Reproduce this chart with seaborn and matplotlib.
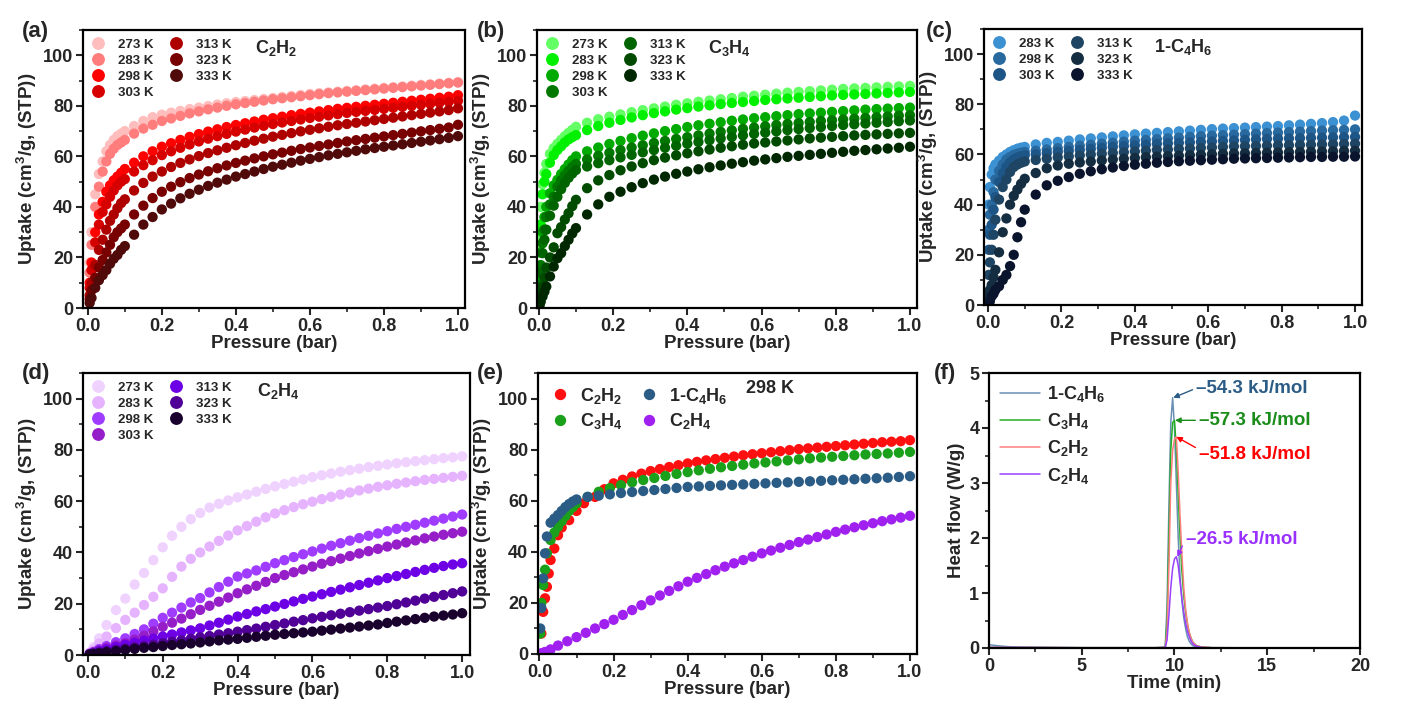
"""
    Adsorption isotherms (a-e) and calorimetry heat flow (f).
"""

import pandas as pd
import matplotlib
matplotlib.use('Agg')
import matplotlib.pyplot as plt
import seaborn as sns
from matplotlib.ticker import MultipleLocator

# ---------------- data ----------------
# pressure grids (bar)
P_A = [0.005, 0.01, 0.02, 0.03, 0.04, 0.05, 0.06, 0.07, 0.08, 0.09, 0.10,
       0.125, 0.15, 0.175, 0.20, 0.225, 0.25, 0.275, 0.30, 0.325, 0.35, 0.375, 0.40,
       0.425, 0.45, 0.475, 0.50, 0.525, 0.55, 0.575, 0.60, 0.625, 0.65, 0.675, 0.70,
       0.725, 0.75, 0.775, 0.80, 0.825, 0.85, 0.875, 0.90, 0.925, 0.95, 0.975, 1.0]

P_B = [0.002, 0.005, 0.01, 0.015, 0.02, 0.03, 0.04, 0.05, 0.06, 0.07, 0.08, 0.09, 0.10,
       0.13, 0.16, 0.19, 0.22, 0.25, 0.28, 0.31, 0.34, 0.37, 0.40,
       0.43, 0.46, 0.49, 0.52, 0.55, 0.58, 0.61, 0.64, 0.67, 0.70,
       0.73, 0.76, 0.79, 0.82, 0.85, 0.88, 0.91, 0.94, 0.97, 1.0]

P_D = [0.005, 0.015, 0.03, 0.05, 0.075, 0.10, 0.125, 0.15, 0.175, 0.20,
       0.225, 0.25, 0.275, 0.30, 0.325, 0.35, 0.375, 0.40, 0.425, 0.45,
       0.475, 0.50, 0.525, 0.55, 0.575, 0.60, 0.625, 0.65, 0.675, 0.70,
       0.725, 0.75, 0.775, 0.80, 0.825, 0.85, 0.875, 0.90, 0.925, 0.95, 0.975, 1.0]

P_E = [0.005, 0.01, 0.015, 0.02, 0.025, 0.03, 0.04, 0.05, 0.06, 0.08, 0.10, 0.12, 0.15, 0.175,
       0.20, 0.225, 0.25, 0.275, 0.30, 0.325, 0.35, 0.375, 0.40, 0.425, 0.45,
       0.475, 0.50, 0.525, 0.55, 0.575, 0.60, 0.625, 0.65, 0.675, 0.70, 0.725,
       0.75, 0.775, 0.80, 0.825, 0.85, 0.875, 0.90, 0.925, 0.95, 0.975, 1.0]

# (a) C2H2, on P_A
c2h2_273 = [18, 30, 45, 53, 58, 62, 64.5, 66.5, 68, 69, 70,
            72, 74, 75.5, 76.5, 77.3, 78, 78.7, 79.3, 79.9, 80.5, 81, 81.5,
            81.9, 82.3, 82.7, 83.1, 83.5, 83.9, 84.3, 84.7, 85.0, 85.3, 85.6, 85.9,
            86.2, 86.5, 86.8, 87.1, 87.4, 87.7, 88.0, 88.3, 88.5, 88.8, 89.1, 89.4]
c2h2_283 = [14, 25, 40, 48, 54, 58, 61, 63, 64.5, 65.5, 66.5,
            69, 71, 72.5, 74, 75, 76, 77, 77.8, 78.6, 79.3, 80, 80.6,
            81.1, 81.6, 82.1, 82.6, 83, 83.4, 83.8, 84.2, 84.6, 85, 85.3, 85.6,
            85.9, 86.2, 86.5, 86.8, 87.1, 87.4, 87.7, 88, 88.3, 88.6, 88.9, 89.2]
c2h2_298 = [10, 18, 30, 37, 42, 46, 48.5, 50.5, 52, 53.5, 55,
            57.5, 60, 62, 63.8, 65.2, 66.5, 67.7, 68.8, 69.8, 70.7, 71.6, 72.4,
            73.1, 73.8, 74.5, 75.1, 75.7, 76.3, 76.8, 77.3, 77.8, 78.3, 78.8, 79.2,
            79.6, 80, 80.4, 80.8, 81.2, 81.6, 82, 82.4, 82.8, 83.2, 83.6, 84.2]
c2h2_303 = [8, 15, 26, 33, 38, 41, 44, 46.5, 48.5, 50, 51,
            54, 56.5, 58.5, 60.5, 62, 63.4, 64.7, 65.9, 67, 68, 68.9, 69.8,
            70.6, 71.4, 72.1, 72.8, 73.4, 74, 74.6, 75.2, 75.7, 76.2, 76.7, 77.2,
            77.6, 78, 78.4, 78.8, 79.2, 79.6, 80, 80.4, 80.8, 81.2, 81.6, 82]
c2h2_313 = [5, 10, 17, 23, 27, 31, 34.5, 37, 39.5, 41.5, 43,
            46.5, 49.5, 52, 54, 55.8, 57.4, 58.8, 60.1, 61.3, 62.4, 63.4, 64.4,
            65.3, 66.2, 67, 67.8, 68.5, 69.2, 69.9, 70.5, 71.1, 71.7, 72.3, 72.8,
            73.3, 73.8, 74.3, 74.8, 75.3, 75.8, 76.3, 76.8, 77.3, 77.8, 78.3, 79]
c2h2_323 = [3.5, 7, 12, 16, 19, 22, 25, 28, 30, 31.5, 33,
            37, 40.5, 43.5, 46, 48, 49.8, 51.4, 52.8, 54.1, 55.3, 56.4, 57.4,
            58.3, 59.2, 60, 60.8, 61.5, 62.2, 62.9, 63.5, 64.1, 64.7, 65.3, 65.9,
            66.4, 66.9, 67.4, 67.9, 68.4, 68.9, 69.4, 69.9, 70.4, 70.9, 71.4, 72.5]
c2h2_333 = [2, 4, 8, 11, 13, 15, 17.5, 19.5, 21, 23, 24.5,
            29, 33, 36, 39, 41.3, 43.4, 45.2, 46.8, 48.3, 49.6, 50.8, 52,
            53, 54, 55, 55.9, 56.7, 57.5, 58.3, 59, 59.7, 60.4, 61, 61.6,
            62.2, 62.8, 63.3, 63.8, 64.3, 64.8, 65.3, 65.8, 66.3, 66.8, 67.3, 68]

# (b) C3H4, on P_B
c3h4_273 = [28, 40, 49, 53.5, 57, 61, 63.3, 65, 66.5, 68, 69.3, 70.5, 71.7,
            73.3, 74.7, 75.7, 76.6, 77.5, 78.3, 79, 79.7, 80.4, 81,
            81.6, 82.1, 82.6, 83.1, 83.6, 84, 84.4, 84.8, 85.2, 85.5,
            85.8, 86.1, 86.4, 86.7, 86.9, 87.1, 87.3, 87.5, 87.7, 87.9]
c3h4_283 = [22, 33, 45, 50, 53, 57.5, 60.5, 62.5, 64, 65.5, 66.7, 67.6, 68.4,
            70.4, 72, 73.3, 74.4, 75.4, 76.3, 77.1, 77.8, 78.5, 79.1,
            79.7, 80.2, 80.7, 81.1, 81.5, 81.9, 82.3, 82.6, 82.9, 83.2,
            83.5, 83.8, 84.1, 84.3, 84.5, 84.7, 84.9, 85.1, 85.3, 85.5]
c3h4_298 = [12, 22, 30, 36, 40, 45.4, 48.5, 50.7, 53, 55, 56.8, 58.5, 60,
            62, 63.5, 64.9, 66.1, 67.2, 68.2, 69.1, 70, 70.8, 71.6,
            72.3, 72.9, 73.5, 74.1, 74.6, 75.1, 75.5, 75.9, 76.3, 76.7,
            77, 77.3, 77.6, 77.9, 78.2, 78.5, 78.7, 78.9, 79.1, 79.3]
c3h4_303 = [9, 17, 25.6, 31, 36, 41, 44, 48, 50.5, 52.5, 54.3, 55.8, 57,
            58.8, 60.2, 61.4, 62.5, 63.5, 64.4, 65.3, 66.1, 66.9, 67.6,
            68.3, 69, 69.7, 70.3, 70.9, 71.4, 71.9, 72.4, 72.8, 73.2,
            73.6, 74, 74.3, 74.6, 74.9, 75.2, 75.5, 75.8, 76.1, 76.3]
c3h4_313 = [7, 14, 21.7, 27, 31, 36.5, 40.5, 44, 47, 49.5, 51.5, 53.2, 54.6,
            56, 57.3, 58.5, 59.6, 60.6, 61.6, 62.5, 63.4, 64.2, 65,
            65.7, 66.4, 67.1, 67.7, 68.3, 68.9, 69.4, 69.9, 70.4, 70.8,
            71.2, 71.6, 72, 72.4, 72.7, 73, 73.3, 73.6, 73.9, 74.2]
c3h4_323 = [3, 5, 8.5, 12, 16, 20, 24, 29.6, 32, 35, 37.5, 40.3, 42.8,
            47.4, 50.5, 52.6, 54.5, 56, 57.3, 58.5, 59.5, 60.4, 61.2,
            62, 62.7, 63.4, 64, 64.6, 65.1, 65.5, 65.9, 66.3, 66.7,
            67.1, 67.4, 67.7, 68, 68.3, 68.5, 68.7, 68.9, 69.1, 69.3]
c3h4_333 = [1, 2.5, 4.6, 6.5, 8.5, 12.5, 16.4, 19.7, 21.7, 24.5, 27, 29.5, 31.6,
            37, 41, 44, 46, 47.8, 49.4, 50.8, 52, 53.1, 54,
            54.9, 55.7, 56.4, 57.1, 57.7, 58.3, 58.8, 59.3, 59.8, 60.2,
            60.6, 61, 61.4, 61.8, 62.2, 62.5, 62.8, 63.1, 63.4, 63.8]

# (c) 1-C4H6, on P_B
c4h6_283 = [40, 47, 52, 54.5, 56, 57.5, 59, 60, 61, 61.7, 62.3, 62.7, 63,
            64, 64.6, 65, 65.5, 66, 66.4, 66.8, 67.2, 67.6, 68,
            68.3, 68.6, 68.9, 69.2, 69.5, 69.8, 70.1, 70.3, 70.5, 70.7,
            70.9, 71.1, 71.3, 71.6, 71.9, 72.2, 72.5, 72.9, 73.5, 75.5]
c4h6_298 = [30, 36, 40, 45, 50, 53.5, 56, 58, 59, 59.8, 60.3, 60.7, 61,
            61.5, 62, 62.5, 63, 63.5, 63.9, 64.3, 64.7, 65.1, 65.5,
            65.8, 66.1, 66.4, 66.7, 67, 67.3, 67.5, 67.7, 67.9, 68.1,
            68.3, 68.5, 68.7, 68.9, 69.1, 69.3, 69.5, 69.7, 69.8, 70]
c4h6_303 = [22, 28, 32, 38, 43, 49, 52.5, 55, 56.8, 58, 58.8, 59.3, 59.7,
            60, 60.5, 61, 61.4, 61.8, 62.2, 62.6, 63, 63.3, 63.6,
            63.9, 64.2, 64.4, 64.6, 64.8, 65, 65.2, 65.4, 65.6, 65.8,
            66, 66.2, 66.3, 66.4, 66.5, 66.6, 66.7, 66.8, 66.9, 67]
c4h6_313 = [12, 17, 22, 28, 34, 42, 47, 50, 53, 55, 56, 56.7, 57.2,
            57.8, 58.3, 58.8, 59.2, 59.6, 60, 60.3, 60.6, 60.9, 61.2,
            61.5, 61.8, 62, 62.2, 62.4, 62.6, 62.8, 63, 63.2, 63.3,
            63.4, 63.5, 63.6, 63.7, 63.8, 63.9, 64, 64.1, 64.2, 64.3]
c4h6_323 = [4, 6, 8, 11, 14, 21, 29, 34.5, 40, 43.5, 46, 48.3, 50.3,
            52.6, 54.5, 55.6, 56.3, 56.8, 57.2, 57.6, 58, 58.3, 58.6,
            58.9, 59.1, 59.3, 59.5, 59.7, 59.9, 60.1, 60.3, 60.4, 60.5,
            60.6, 60.7, 60.8, 60.9, 61, 61.1, 61.2, 61.3, 61.4, 61.5]
c4h6_333 = [1, 1.5, 3.5, 4.5, 6, 7.5, 10, 12, 15.5, 20, 27, 33, 38,
            44, 47.7, 49.5, 51, 52.3, 53.3, 54.1, 54.8, 55.4, 55.9,
            56.3, 56.7, 57, 57.3, 57.5, 57.7, 57.9, 58.1, 58.3, 58.4,
            58.5, 58.6, 58.7, 58.8, 58.9, 59, 59, 59.1, 59.1, 59.2]

# (d) C2H4, on P_D
c2h4_273 = [1, 3, 6.5, 11.7, 17.5, 22, 27.5, 32, 37, 42,
            46.5, 50, 53, 55.4, 57.5, 59, 60.3, 61.5, 62.6, 63.7,
            64.8, 65.8, 66.7, 67.6, 68.5, 69.4, 70.1, 70.8, 71.5, 72.1,
            72.7, 73.3, 73.8, 74.3, 74.8, 75.2, 75.6, 76, 76.4, 76.8, 77.1, 77.5]
c2h4_283 = [0.7, 2, 4.5, 7.2, 10.5, 13.7, 16.5, 19.5, 22.7, 26,
            30.5, 34.5, 37.5, 40, 42.3, 44.5, 46.6, 48.6, 50.3, 52,
            53.7, 55.2, 56.5, 57.7, 58.8, 59.8, 60.8, 61.7, 62.6, 63.4,
            64.2, 64.9, 65.6, 66.2, 66.8, 67.3, 67.8, 68.3, 68.7, 69.1, 69.5, 69.9]
c2h4_298 = [0.5, 1.2, 2.3, 3.5, 5, 6.5, 8.2, 10, 12.2, 14.5,
            16.5, 18.5, 20.5, 22.2, 24.4, 26.5, 28.6, 30.6, 31.8, 33,
            34.4, 35.8, 37, 38.2, 39.3, 40.4, 41.5, 42.6, 43.6, 44.6,
            45.6, 46.5, 47.4, 48.3, 49.2, 50, 50.8, 51.6, 52.4, 53.2, 54, 54.8]
c2h4_303 = [0.4, 1, 1.8, 2.8, 3.7, 4.6, 6, 7.5, 9.2, 11,
            12.6, 14.2, 15.9, 17.6, 19.2, 20.8, 22.4, 24.1, 25.6, 27,
            28.5, 30, 31.2, 32.3, 33.4, 34.5, 35.6, 36.6, 37.6, 38.6,
            39.6, 40.5, 41.4, 42.3, 43.1, 43.9, 44.7, 45.5, 46.2, 46.9, 47.5, 48.1]
c2h4_313 = [0.3, 0.8, 1.5, 2.2, 3.1, 4, 4.8, 5.6, 6.4, 7.2,
            8, 8.8, 9.6, 10.4, 11.5, 12.6, 13.8, 15, 16, 17,
            17.9, 18.9, 19.9, 20.9, 21.9, 22.8, 23.7, 24.6, 25.5, 26.4,
            27.3, 28.2, 29.1, 30, 30.8, 31.6, 32.4, 33.2, 34, 34.7, 35.3, 35.8]
c2h4_323 = [0.2, 0.6, 1, 1.5, 2, 2.5, 3, 3.5, 4, 4.6,
            5.2, 5.7, 6.3, 6.9, 7.4, 8, 8.5, 9.1, 9.7, 10.3,
            11, 11.7, 12.3, 13, 13.6, 14.3, 14.9, 15.5, 16.1, 16.7,
            17.3, 17.9, 18.5, 19.1, 19.8, 20.5, 21.2, 22, 22.7, 23.4, 24.1, 24.8]
c2h4_333 = [0.2, 0.4, 0.7, 1.1, 1.5, 2, 2.4, 2.8, 3.1, 3.5,
            3.9, 4.2, 4.5, 4.9, 5.3, 5.7, 6, 6.3, 6.7, 7.1,
            7.5, 7.9, 8.2, 8.5, 8.8, 9.1, 9.5, 9.9, 10.3, 10.7,
            11.1, 11.5, 11.9, 12.5, 13, 13.5, 14, 14.5, 15, 15.4, 15.8, 16.3]

# (e) comparison at 298 K
e_c2h2 = [8, 16.5, 21.8, 26.3, 31.5, 36.8, 41.3, 46.5, 49.5, 52.4, 56, 59, 61.5, 64.5,
          66.8, 68.2, 69.5, 70.6, 71.6, 72.4, 73.2, 73.9, 74.6, 75.2, 75.8,
          76.3, 76.8, 77.3, 77.8, 78.2, 78.6, 79, 79.4, 79.8, 80.2, 80.5,
          80.8, 81.1, 81.4, 81.7, 82, 82.3, 82.6, 82.9, 83.1, 83.3, 83.7]          # P_E
e_c3h4 = [8, 20, 27, 33, 39.4, 44.6, 47.5, 49.8, 52, 54, 56, 57.5, 59,
          61.5, 63.5, 64.9, 66.1, 67.2, 68.1, 68.9, 69.7, 70.5, 71.2,
          71.9, 72.5, 73.1, 73.6, 74.1, 74.6, 75, 75.4, 75.8, 76.2,
          76.6, 76.9, 77.2, 77.5, 77.8, 78.1, 78.3, 78.5, 78.8, 79.1]              # P_B
e_c4h6 = [10, 18, 29.6, 39.4, 46, 51.4, 53, 54.4, 56, 57.5, 58.7, 59.7, 60.5,
          61.5, 62, 62.5, 63, 63.4, 63.8, 64.2, 64.6, 65, 65.4,
          65.6, 65.8, 66, 66.2, 66.4, 66.6, 66.8, 67, 67.2, 67.4,
          67.6, 67.8, 68, 68.2, 68.4, 68.6, 68.8, 69, 69.3, 69.6]                   # P_B
e_c2h4 = [0.3, 0.8, 1.8, 3.3, 5, 6.6, 8.3, 10, 11.7, 13.4,
          15.3, 17.2, 19.1, 21, 22.9, 24.7, 26.5, 28.3, 29.8, 31.3,
          32.8, 34.2, 35.5, 36.8, 38.1, 39.4, 40.5, 41.6, 42.7, 43.8,
          44.8, 45.8, 46.8, 47.8, 48.7, 49.6, 50.4, 51.2, 52, 52.7, 53.4, 54.1]  # P_D

# (f) heat flow (W/g) vs time (min)
t_min = [0, 0.5, 1, 2, 5, 9, 9.5, 9.6, 9.7, 9.8, 9.9, 10.0, 10.1, 10.2, 10.3, 10.4,
         10.5, 10.6, 10.7, 10.8, 10.9, 11.0, 11.2, 11.5, 12, 15, 20]
hf_c4h6 = [0.06, 0.04, 0.025, 0.01, 0.005, 0.005, 0.01, 0.8, 2.6, 4.1, 4.55, 4.0, 3.0, 2.0, 1.3, 0.85,
           0.55, 0.35, 0.2, 0.12, 0.07, 0.04, 0.02, 0.01, 0.005, 0.003, 0.003]
hf_c3h4 = [0.01, 0.01, 0.01, 0.01, 0.005, 0.005, 0.01, 0.5, 2.0, 3.6, 4.1, 4.14, 3.6, 2.8, 2.0, 1.4,
           0.95, 0.65, 0.42, 0.27, 0.17, 0.1, 0.04, 0.015, 0.005, 0.003, 0.003]
hf_c2h2 = [0.01, 0.01, 0.01, 0.01, 0.005, 0.005, 0.01, 0.3, 1.5, 3.0, 3.6, 3.8, 3.84, 3.2, 2.4, 1.7,
           1.1, 0.7, 0.45, 0.28, 0.17, 0.1, 0.04, 0.015, 0.005, 0.003, 0.003]
hf_c2h4 = [0.01, 0.01, 0.01, 0.01, 0.005, 0.005, 0.01, 0.15, 0.6, 1.1, 1.45, 1.62, 1.66, 1.5, 1.2, 0.9,
           0.65, 0.45, 0.3, 0.2, 0.12, 0.07, 0.03, 0.01, 0.005, 0.003, 0.003]

TEMPS_7 = ['273 K', '283 K', '298 K', '303 K', '313 K', '323 K', '333 K']
TEMPS_6 = ['283 K', '298 K', '303 K', '313 K', '323 K', '333 K']
GASES_E = ['C$_2$H$_2$', 'C$_3$H$_4$', '1-C$_4$H$_6$', 'C$_2$H$_4$']
GASES_F = ['1-C$_4$H$_6$', 'C$_3$H$_4$', 'C$_2$H$_2$', 'C$_2$H$_4$']

COLORS_A = ['#FFBEBE', '#FF7D7D', '#FF0000', '#D70000', '#AF0000', '#780000', '#500A0A']
COLORS_B = ['#64FF64', '#00F000', '#00AA00', '#007800', '#006400', '#004B00', '#002800']
COLORS_C = ['#3C91D2', '#2869A0', '#1E5587', '#1E4664', '#142D41', '#0A142D']
COLORS_D = ['#F0D2FF', '#E6B4FF', '#A03CFF', '#961EC8', '#6E00E6', '#500096', '#19002D']
COLORS_E = ['#FF1010', '#1AA01A', '#2B5C86', '#A020F0']
COLORS_F = ['#6A8FB5', '#22B022', '#FF7F7F', '#9A40FF']

# ---------------- style ----------------
sns.set_theme(style="ticks")
plt.rcParams['font.family'] = ['Liberation Sans', 'DejaVu Sans']
plt.rcParams['font.weight'] = 'bold'
plt.rcParams['axes.labelweight'] = 'bold'
plt.rcParams['mathtext.fontset'] = 'custom'
plt.rcParams['mathtext.rm'] = 'Liberation Sans:bold'
plt.rcParams['mathtext.bf'] = 'Liberation Sans:bold'
plt.rcParams['mathtext.it'] = 'Liberation Sans:bold'
plt.rcParams['mathtext.default'] = 'rm'

W, H = 1412, 716


def long_df(pressures, series, names):
    frames = []
    for p, y, n in zip(pressures, series, names):
        frames.append(pd.DataFrame({'P': p, 'U': y, 'name': n}))
    return pd.concat(frames, ignore_index=True)


def make_axes(fig, left, right, top, bottom):
    return fig.add_axes([left / W, 1 - bottom / H, (right - left) / W, (bottom - top) / H])


def style_axes(ax, xlim, ylim, xmaj, xmin, ymaj, ymin):
    ax.set_xlim(*xlim)
    ax.set_ylim(*ylim)
    ax.xaxis.set_major_locator(MultipleLocator(xmaj))
    ax.xaxis.set_minor_locator(MultipleLocator(xmin))
    ax.yaxis.set_major_locator(MultipleLocator(ymaj))
    ax.yaxis.set_minor_locator(MultipleLocator(ymin))
    ax.tick_params(which='major', direction='out', length=5, width=1.5, labelsize=13, pad=2)
    ax.tick_params(which='minor', direction='out', length=3, width=1.2)
    for s in ax.spines.values():
        s.set_visible(True)
        s.set_linewidth(1.6)
        s.set_color('black')


def isotherm_panel(ax, df, order, colors, gas_label, xlim):
    sns.scatterplot(data=df, x='P', y='U', hue='name', hue_order=order,
                    palette=colors, s=55, edgecolor='none', linewidth=0,
                    ax=ax, legend='full')
    style_axes(ax, xlim, (0, 110), 0.2, 0.1, 20, 10)
    ax.set_xticks([0.0, 0.2, 0.4, 0.6, 0.8, 1.0])
    ax.set_xticklabels(['0.0', '0.2', '0.4', '0.6', '0.8', '1.0'])
    ax.set_xlabel('Pressure (bar)', fontsize=13.5, labelpad=0)
    ax.set_ylabel('Uptake (cm$^3$/g, (STP))', fontsize=13.5, labelpad=3)
    sns.move_legend(ax, 'upper left', bbox_to_anchor=(0.0, 1.0), ncol=2, title=None,
                    frameon=False, fontsize=9.5, handlelength=1.0, handletextpad=1.0,
                    columnspacing=1.2, labelspacing=0.28, borderaxespad=0.25,
                    markerscale=1.25)
    ax.text(0.45, 0.935, gas_label, transform=ax.transAxes, fontsize=13,
            fontweight='bold', ha='left', va='center')


fig = plt.figure(figsize=(W / 100, H / 100), dpi=100)

# (a)
ax_a = make_axes(fig, 83, 465, 30, 308)
df_a = long_df([P_A] * 7, [c2h2_273, c2h2_283, c2h2_298, c2h2_303, c2h2_313, c2h2_323, c2h2_333], TEMPS_7)
isotherm_panel(ax_a, df_a, TEMPS_7, COLORS_A, 'C$_2$H$_2$', (-0.013, 1.019))

# (b)
ax_b = make_axes(fig, 537, 917, 30, 308)
df_b = long_df([P_B] * 7, [c3h4_273, c3h4_283, c3h4_298, c3h4_303, c3h4_313, c3h4_323, c3h4_333], TEMPS_7)
isotherm_panel(ax_b, df_b, TEMPS_7, COLORS_B, 'C$_3$H$_4$', (-0.005, 1.019))

# (c)
ax_c = make_axes(fig, 984, 1362, 29, 305)
df_c = long_df([P_B] * 6, [c4h6_283, c4h6_298, c4h6_303, c4h6_313, c4h6_323, c4h6_333], TEMPS_6)
isotherm_panel(ax_c, df_c, TEMPS_6, COLORS_C, '1-C$_4$H$_6$', (-0.011, 1.019))

# (d)
ax_d = make_axes(fig, 83, 470, 373, 655)
df_d = long_df([P_D] * 7, [c2h4_273, c2h4_283, c2h4_298, c2h4_303, c2h4_313, c2h4_323, c2h4_333], TEMPS_7)
isotherm_panel(ax_d, df_d, TEMPS_7, COLORS_D, 'C$_2$H$_4$', (-0.013, 1.021))

# (e)
ax_e = make_axes(fig, 538, 917, 373, 654)
df_e = long_df([P_E, P_B, P_B, P_D], [e_c2h2, e_c3h4, e_c4h6, e_c2h4], GASES_E)
sns.scatterplot(data=df_e, x='P', y='U', hue='name', hue_order=GASES_E,
                palette=COLORS_E, s=55, edgecolor='none', linewidth=0, ax=ax_e, legend='full')
style_axes(ax_e, (-0.004, 1.019), (0, 110), 0.2, 0.1, 20, 10)
ax_e.set_xticks([0.0, 0.2, 0.4, 0.6, 0.8, 1.0])
ax_e.set_xticklabels(['0.0', '0.2', '0.4', '0.6', '0.8', '1.0'])
ax_e.set_xlabel('Pressure (bar)', fontsize=13.5, labelpad=0)
ax_e.set_ylabel('Uptake (cm$^3$/g, (STP))', fontsize=13.5, labelpad=3)
sns.move_legend(ax_e, 'upper left', bbox_to_anchor=(0.0, 1.0), ncol=2, title=None,
                frameon=False, fontsize=13, handlelength=1.0, handletextpad=0.6,
                columnspacing=1.0, labelspacing=0.3, borderaxespad=0.3, markerscale=1.1)
ax_e.text(0.55, 0.945, '298 K', transform=ax_e.transAxes, fontsize=13,
          fontweight='bold', ha='left', va='center')

# (f)
ax_f = make_axes(fig, 989, 1360, 373, 648)
df_f = long_df([t_min] * 4, [hf_c4h6, hf_c3h4, hf_c2h2, hf_c2h4], GASES_F)
sns.lineplot(data=df_f, x='P', y='U', hue='name', hue_order=GASES_F,
             palette=COLORS_F, linewidth=1.1, ax=ax_f, legend='full')
style_axes(ax_f, (0, 20), (0, 5), 5, 2.5, 1, 0.5)
ax_f.set_xlabel('Time (min)', fontsize=13.5, labelpad=0)
ax_f.set_ylabel('Heat flow (W/g)', fontsize=13.5, labelpad=3)
sns.move_legend(ax_f, 'upper left', bbox_to_anchor=(0.0, 1.0), ncol=1, title=None,
                frameon=False, fontsize=13, handlelength=2.2, handletextpad=0.4,
                labelspacing=0.4, borderaxespad=0.2)

ann = [('\u201354.3 kJ/mol', (9.93, 4.55), (11.15, 4.72), COLORS_E[2], (0, 0.5)),
       ('\u201357.3 kJ/mol', (10.03, 4.14), (11.3, 4.14), '#1A8C1A', (0, 0.5)),
       ('\u201351.8 kJ/mol', (10.1, 3.84), (11.3, 3.52), '#FF0000', (0, 0.8)),
       ('\u201326.5 kJ/mol', (10.15, 1.66), (10.6, 1.98), '#9A30FF', (0, 0.5))]
for txt, xy, xyt, col, rp in ann:
    ax_f.annotate(txt, xy=xy, xytext=xyt, color=col, fontsize=13.5, fontweight='bold',
                  ha='left', va='center',
                  arrowprops=dict(arrowstyle='-|>', color=col, lw=1.0, relpos=rp,
                                  shrinkA=0, shrinkB=0, mutation_scale=8))

# panel labels
for lab, x, y in [('(a)', 22, 32), ('(b)', 477, 32), ('(c)', 926, 32),
                  ('(d)', 22, 373), ('(e)', 477, 373), ('(f)', 934, 373)]:
    fig.text(x / W, 1 - y / H, lab, fontsize=16, fontweight='bold', ha='left', va='center')

fig.savefig('out.png', dpi=100)
